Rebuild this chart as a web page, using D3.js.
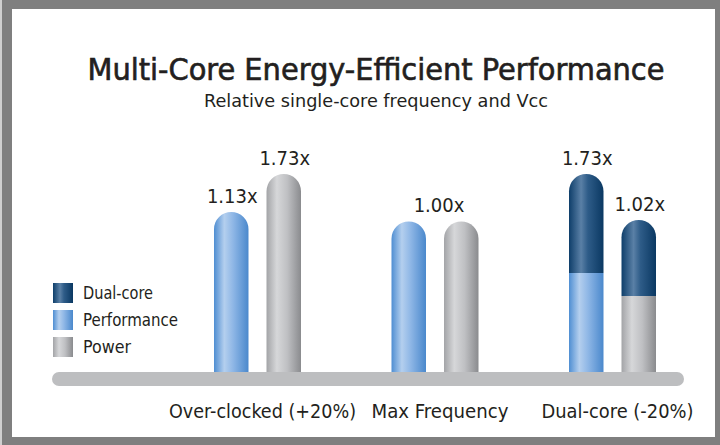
<!DOCTYPE html>
<html>
<head>
<meta charset="utf-8">
<script src="https://cdn.jsdelivr.net/npm/d3@7/dist/d3.min.js"></script>
<style>
  html, body { margin: 0; padding: 0; background: #ffffff; }
  svg { display: block; }
  text { font-family: "Liberation Sans Narrow", "DejaVu Sans Condensed", "Open Sans", sans-serif; fill: #231f20; }
</style>
</head>
<body>
<svg id="chart" width="720" height="445"></svg>
<script>
// Relative values per scenario (1.00x = single core at max frequency)
const categories = ["Over-clocked (+20%)", "Max Frequency", "Dual-core (-20%)"];
const performance = [1.13, 1.00, 1.73];
const power = [1.73, 1.00, 1.02];
// Number of cores contributing to each scenario
const coreCount = [1, 1, 2];
const seriesNames = ["Performance", "Power"];
const legendItems = ["Dual-core", "Performance", "Power"];
const titleText = "Multi-Core Energy-Efficient Performance";
const subtitleText = "Relative single-core frequency and Vcc";

const W = 720, H = 445;
const svg = d3.select("#chart");
const defs = svg.append("defs");

// Cylinder-style horizontal shading for each fill
const gradients = {
  perf: [["0%", "#4f8ed2"], ["30%", "#b4cfee"], ["55%", "#8fb7e6"], ["100%", "#4a88cc"]],
  power: [["0%", "#a3a4a7"], ["30%", "#d6d7d9"], ["60%", "#bfc0c3"], ["100%", "#8a8b8e"]],
  dual: [["0%", "#0e3e6a"], ["35%", "#5a80a6"], ["55%", "#2e5c88"], ["100%", "#0a3862"]]
};
Object.entries(gradients).forEach(([id, stops]) => {
  const g = defs.append("linearGradient").attr("id", "g-" + id)
    .attr("x1", 0).attr("x2", 1).attr("y1", 0).attr("y2", 0);
  stops.forEach(([o, c]) => g.append("stop").attr("offset", o).attr("stop-color", c));
});

// Frame
svg.append("rect").attr("width", W).attr("height", H).attr("fill", "#7f7f7f");
svg.append("rect").attr("x", 0).attr("y", 0).attr("width", 2).attr("height", H).attr("fill", "#cfcfcf");
svg.append("rect").attr("x", 12).attr("y", 9).attr("width", 703).attr("height", 428).attr("fill", "#ffffff");

// Titles
svg.append("text").attr("x", 376).attr("y", 80).attr("text-anchor", "middle")
  .attr("font-size", 31).attr("textLength", 577).attr("lengthAdjust", "spacingAndGlyphs")
  .attr("stroke", "#231f20").attr("stroke-width", 0.6)
  .text(titleText);
svg.append("text").attr("x", 376).attr("y", 107).attr("text-anchor", "middle")
  .attr("font-size", 18).attr("textLength", 344).attr("lengthAdjust", "spacingAndGlyphs")
  .attr("fill", "#333").text(subtitleText);

// Scales
const x0 = d3.scaleBand().domain(categories).range([168.75, 701.25]).padding(0);
const x1 = d3.scaleBand().domain(seriesNames).range([-43.5, 43.5]).paddingInner(0.343).paddingOuter(0);
const y = d3.scaleSqrt().domain([0, 1.73]).range([372, 174]);
const baseY = y(0);
const bw = x1.bandwidth();

function roundTop(x, w, yTop, yBot) {
  const r = w / 2;
  const p = d3.path();
  p.moveTo(x, yBot);
  p.lineTo(x, yTop + r);
  p.arc(x + r, yTop + r, r, Math.PI, 0);
  p.lineTo(x + w, yBot);
  p.closePath();
  return p.toString();
}

const bars = [];
categories.forEach((c, i) => {
  [["Performance", performance[i], "perf"], ["Power", power[i], "power"]].forEach(([s, v, fill]) => {
    bars.push({ c, s, v, fill, cores: coreCount[i], x: x0(c) + x0.bandwidth() / 2 + x1(s) });
  });
});

const gBars = svg.append("g");
bars.forEach(b => {
  const top = y(b.v);
  const bottom = baseY + 7;
  if (b.cores > 1) {
    // split the bar height into one segment per core
    const share = d3.scaleLinear().domain([0, b.cores]).range([baseY, top]);
    const split = share(1);
    gBars.append("rect").attr("x", b.x).attr("y", split).attr("width", bw)
      .attr("height", bottom - split).attr("fill", `url(#g-${b.fill})`);
    gBars.append("path").attr("d", roundTop(b.x, bw, top, split)).attr("fill", "url(#g-dual)");
  } else {
    gBars.append("path").attr("d", roundTop(b.x, bw, top, bottom)).attr("fill", `url(#g-${b.fill})`);
  }
});

// Baseline
svg.append("rect").attr("x", 52).attr("y", 372).attr("width", 632).attr("height", 14)
  .attr("rx", 7).attr("fill", "#bdbec0");

// Value labels
const fmt = v => d3.format(".2f")(v) + "x";
categories.forEach((c, i) => {
  const cx = x0(c) + x0.bandwidth() / 2;
  if (performance[i] === power[i]) {
    svg.append("text").attr("x", cx + 4).attr("y", y(performance[i]) - 9)
      .attr("text-anchor", "middle").attr("font-size", 20).attr("fill", "#333")
      .text(fmt(performance[i]));
  } else {
    [["Performance", performance[i]], ["Power", power[i]]].forEach(([s, v]) => {
      svg.append("text").attr("x", cx + x1(s) + bw / 2 + 1).attr("y", y(v) - 9)
        .attr("text-anchor", "middle").attr("font-size", 20).attr("fill", "#333")
        .text(fmt(v));
    });
  }
});

// Category labels
const catWidths = [187, 137, 152];
categories.forEach((c, i) => {
  svg.append("text").attr("x", x0(c) + x0.bandwidth() / 2 + 5).attr("y", 418)
    .attr("text-anchor", "middle").attr("font-size", 19)
    .attr("textLength", catWidths[i]).attr("lengthAdjust", "spacingAndGlyphs")
    .text(c);
});

// Legend
const legendFill = { "Dual-core": "dual", "Performance": "perf", "Power": "power" };
const legendWidths = { "Dual-core": 70, "Performance": 95, "Power": 48 };
const ly = d3.scaleBand().domain(legendItems).range([283, 357]).paddingInner(0.259).paddingOuter(0);
legendItems.forEach(name => {
  svg.append("rect").attr("x", 53).attr("y", ly(name)).attr("width", 20).attr("height", 20)
    .attr("fill", `url(#g-${legendFill[name]})`);
  svg.append("text").attr("x", 83).attr("y", ly(name) + 16).attr("font-size", 17)
    .attr("textLength", legendWidths[name]).attr("lengthAdjust", "spacingAndGlyphs")
    .attr("fill", "#333").text(name);
});
</script>
</body>
</html>
